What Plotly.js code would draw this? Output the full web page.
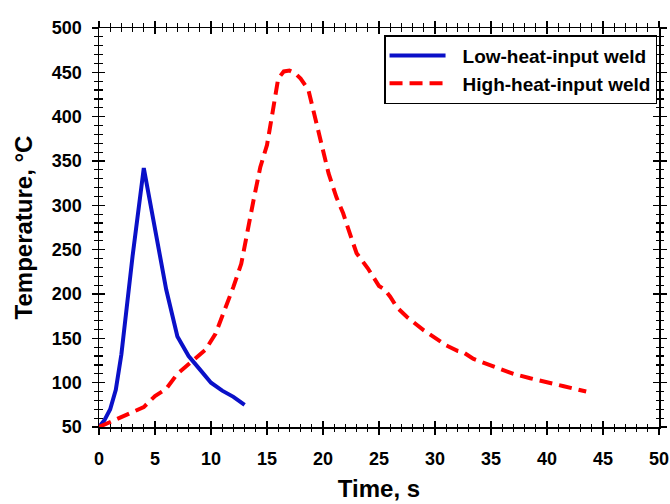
<!DOCTYPE html>
<html>
<head>
<meta charset="utf-8">
<script src="https://cdn.plot.ly/plotly-3.0.1.min.js"></script>
<style>html,body{margin:0;padding:0;background:#fff;}#chart{width:670px;height:504px;}</style>
</head>
<body>
<div id="chart"></div>
<script>
// Low-heat-input weld (time s, temperature °C)
var lowTime = [0, 0.5, 1, 1.5, 2, 3, 4, 4.5, 5, 6, 7, 8, 9, 10, 11, 12, 13];
var lowTemp = [50, 58, 70, 92, 132, 243, 342, 308, 275, 205, 152, 130, 115, 100, 91, 84, 75];

// High-heat-input weld
var highTime = [0, 2, 4, 5, 6, 7, 8.4, 9.5, 10.4, 11.1, 12, 12.7, 13.2, 13.8, 14.4, 15, 15.5, 16, 16.5, 17, 17.5, 18, 18.7, 19.3, 19.9, 20.5, 21.2, 21.8, 22.4, 23, 24, 25, 25.5, 26, 26.6, 27.5, 29, 30, 31, 32, 32.5, 33.4, 35.2, 37, 38.5, 40, 41.5, 43.5];
var highTemp = [50, 61, 72.5, 85, 93, 110, 125, 137, 155, 178, 208, 234, 268, 306, 343, 368, 405, 443, 451, 452, 449, 443, 430, 400, 366, 336, 309, 291, 268, 246, 229, 209, 205, 197, 185, 174, 159, 150, 142, 136, 134.5, 127, 118, 110, 105, 100, 96, 90];

var seriesNames = ['Low-heat-input weld', 'High-heat-input weld'];
var xTitle = 'Time, s';
var yTitle = 'Temperature, \u00B0C';

var FONT = 'Liberation Sans, Arial, sans-serif';

var traces = [
  {x: lowTime, y: lowTemp, name: seriesNames[0], type: 'scatter', mode: 'lines',
   line: {color: '#0a10c8', width: 4}},
  {x: highTime, y: highTemp, name: seriesNames[1], type: 'scatter', mode: 'lines',
   line: {color: '#ff0000', width: 4, dash: '13px,7px'}},
  {x: [], y: [], xaxis: 'x2', yaxis: 'y2', showlegend: false, hoverinfo: 'skip', type: 'scatter', mode: 'lines'}
];

function axisBase(range, dtick, minorDtick, inside) {
  return {
    range: range, dtick: dtick, tick0: 0, autorange: false,
    ticks: inside ? 'inside' : 'outside', ticklen: 6, tickwidth: 1.5, tickcolor: '#000',
    showline: true, linewidth: 1.5, linecolor: '#000', mirror: 'ticks',
    showgrid: false, zeroline: false,
    minor: {dtick: minorDtick, tick0: 0, ticks: inside ? 'inside' : 'outside', ticklen: 3.5, tickwidth: 1.2, tickcolor: '#000', showgrid: false},
    tickfont: {family: FONT, size: 18, color: '#000', weight: 'bold'}
  };
}

var xa = axisBase([0, 50], 5, 1, false);
xa.ticklabelstandoff = 9;
xa.title = {text: xTitle, font: {family: FONT, size: 24, color: '#000', weight: 'bold'}, standoff: 12};
var ya = axisBase([50, 500], 50, 10, false);
ya.ticklabelstandoff = 6;
ya.title = {text: yTitle, font: {family: FONT, size: 24, color: '#000', weight: 'bold'}, standoff: 12};

var xa2 = axisBase([0, 50], 5, 1, true);
xa2.overlaying = 'x'; xa2.anchor = 'y2'; xa2.showticklabels = false;
var ya2 = axisBase([50, 500], 50, 10, true);
ya2.overlaying = 'y'; ya2.anchor = 'x2'; ya2.showticklabels = false;

var layout = {
  width: 670, height: 504,
  margin: {l: 99, r: 11, t: 28, b: 77},
  paper_bgcolor: '#fff', plot_bgcolor: '#fff',
  showlegend: true,
  font: {family: FONT, color: '#000'},
  xaxis: xa, yaxis: ya, xaxis2: xa2, yaxis2: ya2,
  legend: {
    x: 0.509, y: 0.982, xanchor: 'left', yanchor: 'top',
    bgcolor: '#fff', bordercolor: '#000', borderwidth: 1.5,
    font: {family: FONT, size: 19, color: '#000', weight: 'bold'},
    itemwidth: 67, tracegroupgap: 0
  }
};

Plotly.newPlot('chart', traces, layout, {staticPlot: true, displayModeBar: false}).then(function () {
  var paths = document.querySelectorAll('#chart .legendlines path');
  paths.forEach(function (p) { p.setAttribute('d', 'M4,0h56'); });
});
</script>
</body>
</html>
